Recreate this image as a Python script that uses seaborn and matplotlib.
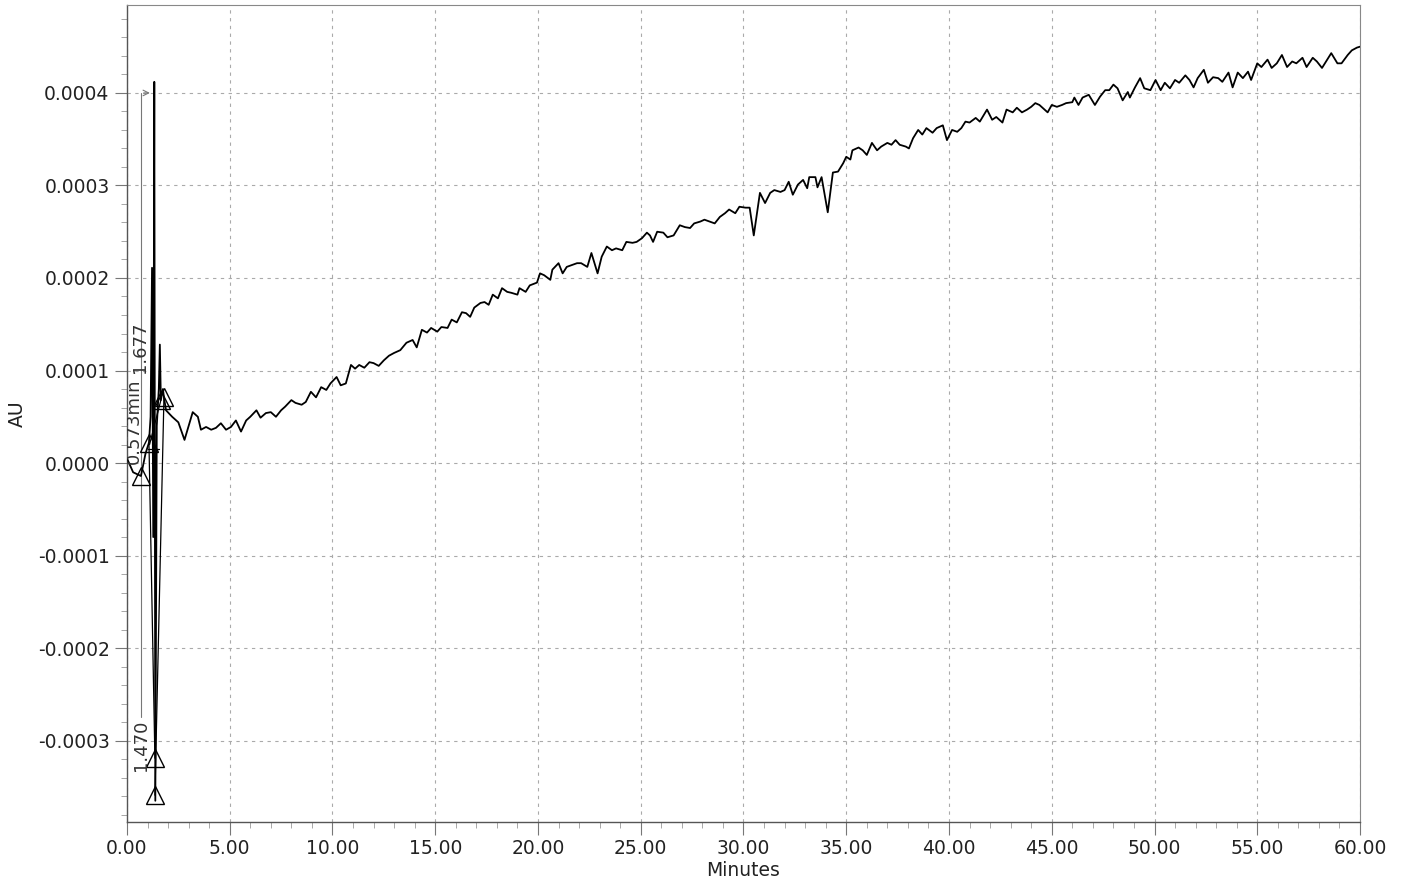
import numpy as np
import matplotlib
matplotlib.use("Agg")
import matplotlib.pyplot as plt
import seaborn as sns
from matplotlib.ticker import MultipleLocator, FuncFormatter

# chromatogram trace, time in minutes, absorbance in 1e-5 AU
time_min = [
    0.00, 0.30, 0.68, 0.90, 1.07, 1.15, 1.22, 1.28, 1.33, 1.38, 1.45, 1.55, 1.60, 1.65, 1.75, 1.80,
    1.90, 2.20, 2.50, 2.80, 3.20, 3.45, 3.60, 3.85, 4.10, 4.33, 4.57, 4.82, 5.06, 5.30, 5.55, 5.80,
    6.00, 6.30, 6.50, 6.76, 7.00, 7.25, 7.50, 7.70, 8.00, 8.20, 8.50, 8.70, 8.95, 9.20, 9.45, 9.70,
    9.90, 10.20, 10.40, 10.65, 10.90, 11.10, 11.30, 11.55, 11.80, 12.00, 12.25, 12.50, 12.75, 13.00,
    13.30, 13.60, 13.90, 14.10, 14.35, 14.60, 14.80, 15.10, 15.30, 15.60, 15.80, 16.05, 16.30, 16.50,
    16.70, 16.90, 17.20, 17.40, 17.60, 17.80, 18.05, 18.25, 18.50, 18.70, 19.00, 19.10, 19.40, 19.60,
    19.95, 20.10, 20.30, 20.60, 20.70, 21.00, 21.20, 21.40, 21.65, 21.90, 22.10, 22.40, 22.60, 22.90,
    23.10, 23.35, 23.60, 23.80, 24.10, 24.30, 24.60, 24.80, 25.06, 25.30, 25.45, 25.60, 25.80, 26.10,
    26.30, 26.60, 26.90, 27.15, 27.40, 27.60, 27.90, 28.10, 28.35, 28.60, 28.85, 29.10, 29.30, 29.60,
    29.80, 30.10, 30.30, 30.50, 30.80, 31.05, 31.30, 31.50, 31.80, 32.00, 32.20, 32.40, 32.65, 32.90,
    33.10, 33.20, 33.50, 33.60, 33.80, 34.10, 34.35, 34.60, 34.85, 35.00, 35.20, 35.30, 35.60, 35.80,
    36.00, 36.25, 36.50, 36.70, 37.00, 37.20, 37.40, 37.60, 37.90, 38.05, 38.25, 38.50, 38.70, 38.90,
    39.20, 39.40, 39.70, 39.90, 40.15, 40.40, 40.60, 40.80, 41.00, 41.30, 41.50, 41.85, 42.10, 42.30,
    42.60, 42.80, 43.10, 43.30, 43.55, 43.80, 44.00, 44.20, 44.40, 44.80, 45.00, 45.25, 45.50, 45.70,
    46.00, 46.10, 46.30, 46.50, 46.80, 47.10, 47.35, 47.60, 47.80, 48.00, 48.20, 48.45, 48.70, 48.80,
    49.05, 49.30, 49.50, 49.80, 50.05, 50.30, 50.50, 50.75, 51.00, 51.20, 51.50, 51.70, 51.90, 52.10,
    52.40, 52.60, 52.85, 53.10, 53.30, 53.60, 53.80, 54.05, 54.30, 54.55, 54.70, 55.00, 55.20, 55.50,
    55.70, 55.95, 56.20, 56.45, 56.70, 56.90, 57.20, 57.40, 57.70, 57.90, 58.15, 58.40, 58.60, 58.90,
    59.10, 59.40, 59.60, 59.85, 60.00,
]
au_e5 = [
    0.5, -1.0, -1.4, 1.0, 2.2, 5.0, 21.1, -8.0, 41.2, -36.5, 4.0, 8.0, 12.8, 6.8, 8.0, 7.1,
    5.7, 5.0, 4.4, 2.5, 5.5, 5.0, 3.6, 3.9, 3.6, 3.8, 4.3, 3.6, 3.9, 4.6, 3.4, 4.6,
    5.0, 5.7, 4.9, 5.4, 5.5, 5.0, 5.7, 6.1, 6.8, 6.5, 6.3, 6.6, 7.7, 7.1, 8.2, 7.9,
    8.6, 9.3, 8.4, 8.6, 10.6, 10.2, 10.6, 10.3, 10.9, 10.8, 10.5, 11.1, 11.6, 11.9,
    12.2, 13.0, 13.3, 12.5, 14.4, 14.1, 14.6, 14.2, 14.7, 14.6, 15.5, 15.2, 16.3, 16.2,
    15.8, 16.8, 17.3, 17.4, 17.1, 18.2, 17.8, 18.9, 18.5, 18.4, 18.2, 18.9, 18.5, 19.2,
    19.5, 20.5, 20.3, 19.8, 20.9, 21.6, 20.5, 21.2, 21.4, 21.6, 21.6, 21.2, 22.7, 20.5,
    22.3, 23.4, 23.0, 23.2, 23.0, 23.9, 23.8, 23.9, 24.3, 24.9, 24.6, 23.9, 25.0, 24.9,
    24.4, 24.6, 25.7, 25.5, 25.4, 25.9, 26.1, 26.3, 26.1, 25.9, 26.6, 27.0, 27.4, 27.0,
    27.7, 27.6, 27.6, 24.6, 29.2, 28.1, 29.2, 29.5, 29.3, 29.5, 30.4, 29.0, 30.1, 30.6,
    29.7, 30.9, 30.9, 29.8, 30.9, 27.1, 31.4, 31.5, 32.4, 33.1, 32.8, 33.8, 34.1, 33.8,
    33.3, 34.6, 33.8, 34.2, 34.6, 34.4, 34.9, 34.4, 34.2, 34.0, 35.1, 36.0, 35.5, 36.2,
    35.7, 36.2, 36.5, 34.9, 36.0, 35.8, 36.2, 36.9, 36.8, 37.3, 36.9, 38.2, 37.1, 37.4,
    36.8, 38.2, 37.9, 38.4, 37.9, 38.2, 38.5, 38.9, 38.7, 37.9, 38.7, 38.5, 38.7, 38.9,
    39.0, 39.5, 38.7, 39.5, 39.8, 38.7, 39.6, 40.3, 40.3, 40.9, 40.5, 39.2, 40.1, 39.5,
    40.6, 41.6, 40.5, 40.3, 41.4, 40.3, 41.1, 40.5, 41.4, 41.1, 41.9, 41.4, 40.6, 41.6,
    42.5, 41.1, 41.7, 41.6, 41.2, 42.2, 40.6, 42.2, 41.6, 42.3, 41.4, 43.2, 42.8, 43.6,
    42.7, 43.2, 44.1, 42.8, 43.4, 43.2, 43.8, 42.8, 43.8, 43.4, 42.7, 43.6, 44.3, 43.2,
    43.2, 44.1, 44.6, 44.9, 45.0,
]

# peak start / end markers (triangles)
mark_t = [0.68, 1.07, 1.65, 1.80, 1.36, 1.36]
mark_e5 = [-1.4, 2.2, 6.8, 7.1, -31.9, -35.9]

# integration baselines drawn between markers
base_t0 = [1.07, 1.10, 1.36, 1.00]
base_e5_0 = [2.2, 2.0, -35.9, 1.5]
base_t1 = [1.36, 1.65, 1.80, 1.55]
base_e5_1 = [-31.9, 6.8, 7.1, 1.5]

# peak labels
label_text = ["1.677", "0.573min", "1.470"]
label_t = [0.62, 0.33, 0.68]
label_e5 = [12.5, 4.5, -30.5]

sns.set_style("white")
plt.rcParams["font.family"] = ["DejaVu Sans"]

fig, ax = plt.subplots(figsize=(14.06, 8.84), dpi=100)
fig.subplots_adjust(left=0.0903, right=0.9673, bottom=0.0701, top=0.9943)

scale = 1e-5
df_t = np.array(time_min)
df_y = np.array(au_e5) * scale

sns.lineplot(x=df_t, y=df_y, sort=False, estimator=None, color="black", lw=1.3, ax=ax, zorder=3)

for t0, y0, t1, y1 in zip(base_t0, base_e5_0, base_t1, base_e5_1):
    ax.plot([t0, t1], [y0 * scale, y1 * scale], color="black", lw=0.9, zorder=3)

ax.plot(mark_t, np.array(mark_e5) * scale, "^", ms=13, mfc="none", mec="black", mew=1.0, zorder=4)

# event line with arrow
ax.plot([0.68, 0.68], [40 * scale, -27.5 * scale], color="#777777", lw=0.8, zorder=2)
ax.annotate("", xy=(1.25, 40 * scale), xytext=(0.68, 40 * scale),
            arrowprops=dict(arrowstyle="->", color="#777777", lw=0.8))

for txt, t, y in zip(label_text, label_t, label_e5):
    ax.text(t, y * scale, txt, rotation=90, ha="center", va="center",
            fontsize=13, color="#333333", clip_on=True, zorder=5)

ax.set_xlim(0, 60)
ax.set_ylim(-38.8 * scale, 49.5 * scale)

ax.xaxis.set_major_locator(MultipleLocator(5))
ax.xaxis.set_minor_locator(MultipleLocator(1))
ax.yaxis.set_major_locator(MultipleLocator(10 * scale))
ax.yaxis.set_minor_locator(MultipleLocator(2 * scale))
ax.xaxis.set_major_formatter(FuncFormatter(lambda v, p: f"{v:.2f}"))
ax.yaxis.set_major_formatter(FuncFormatter(lambda v, p: f"{v:.4f}" if abs(v) > 1e-9 else "0.0000"))

ax.tick_params(which="major", direction="out", length=9, width=0.8, color="#777777",
               labelsize=13.5, labelcolor="#222222", left=True, bottom=True)
ax.tick_params(which="minor", direction="out", length=4, width=0.6, color="#999999",
               left=True, bottom=True)

ax.grid(True, which="major", ls=(0, (3, 4)), color="#aaaaaa", lw=0.8)
ax.set_axisbelow(True)

for side in ["left", "bottom"]:
    ax.spines[side].set_color("#555555")
    ax.spines[side].set_linewidth(1.0)
for side in ["top", "right"]:
    ax.spines[side].set_color("#888888")
    ax.spines[side].set_linewidth(0.8)

ax.set_xlabel("Minutes", fontsize=13.5, color="#222222", labelpad=2)
ax.set_ylabel("AU", fontsize=13.5, color="#222222", labelpad=8)

fig.savefig("out.png", dpi=100)
